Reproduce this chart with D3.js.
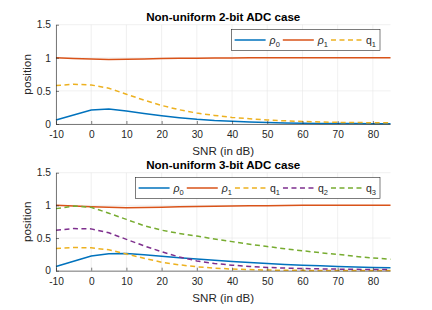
<!DOCTYPE html>
<html>
<head>
<meta charset="utf-8">
<script src="https://cdn.jsdelivr.net/npm/d3@7"></script>
<style>
  body { margin: 0; background: #fff; }
  svg { display: block; font-family: "Liberation Sans", Arial, sans-serif; }
  .grid line { stroke: #e6e6e6; stroke-width: 0.6; }
  .axis path, .axis line { stroke: #262626; stroke-width: 0.6; }
  .axis text { fill: #262626; font-size: 10.2px; }
</style>
</head>
<body>
<svg id="chart" width="432" height="310"></svg>
<script>
const snr = [-10, -5, 0, 5, 10, 15, 20, 25, 30, 35, 40, 45, 50, 55, 60, 65, 70, 75, 80, 85];
const xTicks = [-10, 0, 10, 20, 30, 40, 50, 60, 70, 80];
const yTicks = [0, 0.5, 1, 1.5];

// 2-bit case
const rho0_2bit = [0.06, 0.135, 0.21, 0.225, 0.195, 0.16, 0.125, 0.095, 0.07, 0.052, 0.04, 0.03, 0.022, 0.016, 0.012, 0.009, 0.007, 0.006, 0.005, 0.005];
const rho1_2bit = [1.0, 0.99, 0.98, 0.975, 0.978, 0.983, 0.988, 0.992, 0.995, 0.997, 0.998, 0.999, 1, 1, 1, 1, 1, 1, 1, 1];
const q1_2bit = [0.58, 0.6, 0.59, 0.54, 0.45, 0.36, 0.28, 0.215, 0.165, 0.13, 0.1, 0.08, 0.06, 0.048, 0.038, 0.03, 0.025, 0.022, 0.02, 0.02];

// 3-bit case
const rho0_3bit = [0.065, 0.145, 0.225, 0.26, 0.265, 0.245, 0.22, 0.2, 0.18, 0.16, 0.14, 0.125, 0.11, 0.095, 0.085, 0.075, 0.065, 0.057, 0.05, 0.045];
const rho1_3bit = [1.0, 0.99, 0.98, 0.97, 0.965, 0.967, 0.972, 0.977, 0.982, 0.986, 0.99, 0.993, 0.996, 0.998, 1, 1, 1, 1, 1, 1];
const q1_3bit = [0.34, 0.355, 0.35, 0.32, 0.255, 0.19, 0.13, 0.09, 0.06, 0.04, 0.025, 0.017, 0.01, 0.007, 0.005, 0.004, 0.003, 0.003, 0.003, 0.003];
const q2_3bit = [0.62, 0.645, 0.64, 0.58, 0.48, 0.38, 0.29, 0.21, 0.15, 0.11, 0.085, 0.065, 0.05, 0.04, 0.033, 0.028, 0.024, 0.021, 0.019, 0.018];
const q3_3bit = [0.95, 0.99, 0.97, 0.88, 0.785, 0.69, 0.62, 0.57, 0.53, 0.485, 0.445, 0.405, 0.37, 0.335, 0.305, 0.275, 0.25, 0.22, 0.195, 0.175];

const colors = { rho0: "#0072BD", rho1: "#D95319", q1: "#EDB120", q2: "#7E2F8E", q3: "#77AC30" };

const svg = d3.select("#chart");
const x0 = 56, x1 = 390.5;

function drawPanel(opt) {
    const x = d3.scaleLinear().domain([-10, 85]).range([x0, x1]);
    const y = d3.scaleLinear().domain([0, 1.5]).range([opt.bottom, opt.top]);
    const g = svg.append("g");

    // grid
    const grid = g.append("g").attr("class", "grid");
    grid.selectAll(".gx").data(xTicks).enter().append("line")
        .attr("x1", d => x(d)).attr("x2", d => x(d))
        .attr("y1", opt.top).attr("y2", opt.bottom);
    grid.selectAll(".gy").data(yTicks).enter().append("line")
        .attr("x1", x0).attr("x2", x1)
        .attr("y1", d => y(d)).attr("y2", d => y(d));

    // series
    const line = d3.line().x((d, i) => x(snr[i])).y(d => y(d));
    opt.series.forEach(s => {
        g.append("path")
            .attr("d", line(s.values))
            .attr("fill", "none")
            .attr("stroke", s.color)
            .attr("stroke-width", 1.5)
            .attr("stroke-dasharray", s.dash ? "5,3.5" : null);
    });

    // axes (plain hyphen minus, like the original)
    g.append("g").attr("class", "axis")
        .attr("transform", `translate(0,${opt.bottom})`)
        .call(d3.axisBottom(x).tickValues(xTicks).tickFormat(d => String(d))
            .tickSizeInner(-3).tickSizeOuter(0).tickPadding(7))
        .call(a => a.select(".domain").attr("d", `M${x0},0.5H${x1}`));
    g.append("g").attr("class", "axis")
        .attr("transform", `translate(${x0},0)`)
        .call(d3.axisLeft(y).tickValues(yTicks).tickFormat(d => String(d))
            .tickSizeInner(-3).tickSizeOuter(0).tickPadding(5));

    // title & labels
    g.append("text").attr("x", (x0 + x1) / 2).attr("y", opt.top - 3.7)
        .attr("text-anchor", "middle").attr("font-weight", "bold").attr("font-size", "11.6px")
        .attr("fill", "#000").text(opt.title);
    g.append("text").attr("x", (x0 + x1) / 2).attr("y", opt.bottom + 31)
        .attr("text-anchor", "middle").attr("font-size", "11.6px")
        .attr("fill", "#262626").text("SNR (in dB)");
    g.append("text")
        .attr("transform", `translate(31,${(opt.top + opt.bottom) / 2}) rotate(-90)`)
        .attr("text-anchor", "middle").attr("font-size", "11.8px")
        .attr("fill", "#262626").text("position");

    // legend, right-aligned at x = 380
    const leg = g.append("g");
    const box = leg.append("rect")
        .attr("fill", "#fff").attr("stroke", "#262626").attr("stroke-width", 0.6);
    let cx = 3;
    opt.series.forEach(s => {
        leg.append("line")
            .attr("x1", cx).attr("x2", cx + 31).attr("y1", 0).attr("y2", 0)
            .attr("stroke", s.color).attr("stroke-width", 1.5)
            .attr("stroke-dasharray", s.dash ? "5,3.5" : null);
        cx += 35;
        const t = leg.append("text").attr("x", cx).attr("y", 3.5)
            .attr("font-size", "10.5px").attr("fill", "#262626");
        t.append("tspan").attr("font-style", s.italic ? "italic" : null).text(s.base);
        t.append("tspan").attr("font-size", "7.5px").attr("dy", 3).text(s.sub);
        cx += t.node().getComputedTextLength() + 3;
    });
    const w = cx + 1;
    box.attr("x", 0).attr("y", -10.5).attr("width", w).attr("height", 21);
    leg.attr("transform", `translate(${380 - w},${opt.legendY})`);
}

drawPanel({
    title: "Non-uniform 2-bit ADC case",
    top: 24.7, bottom: 124, legendY: 40,
    series: [
        { values: rho0_2bit, color: colors.rho0, base: "ρ", sub: "0", italic: true },
        { values: rho1_2bit, color: colors.rho1, base: "ρ", sub: "1", italic: true },
        { values: q1_2bit, color: colors.q1, base: "q", sub: "1", dash: true }
    ]
});

drawPanel({
    title: "Non-uniform 3-bit ADC case",
    top: 172.7, bottom: 270.7, legendY: 188,
    series: [
        { values: rho0_3bit, color: colors.rho0, base: "ρ", sub: "0", italic: true },
        { values: rho1_3bit, color: colors.rho1, base: "ρ", sub: "1", italic: true },
        { values: q1_3bit, color: colors.q1, base: "q", sub: "1", dash: true },
        { values: q2_3bit, color: colors.q2, base: "q", sub: "2", dash: true },
        { values: q3_3bit, color: colors.q3, base: "q", sub: "3", dash: true }
    ]
});
</script>
</body>
</html>
